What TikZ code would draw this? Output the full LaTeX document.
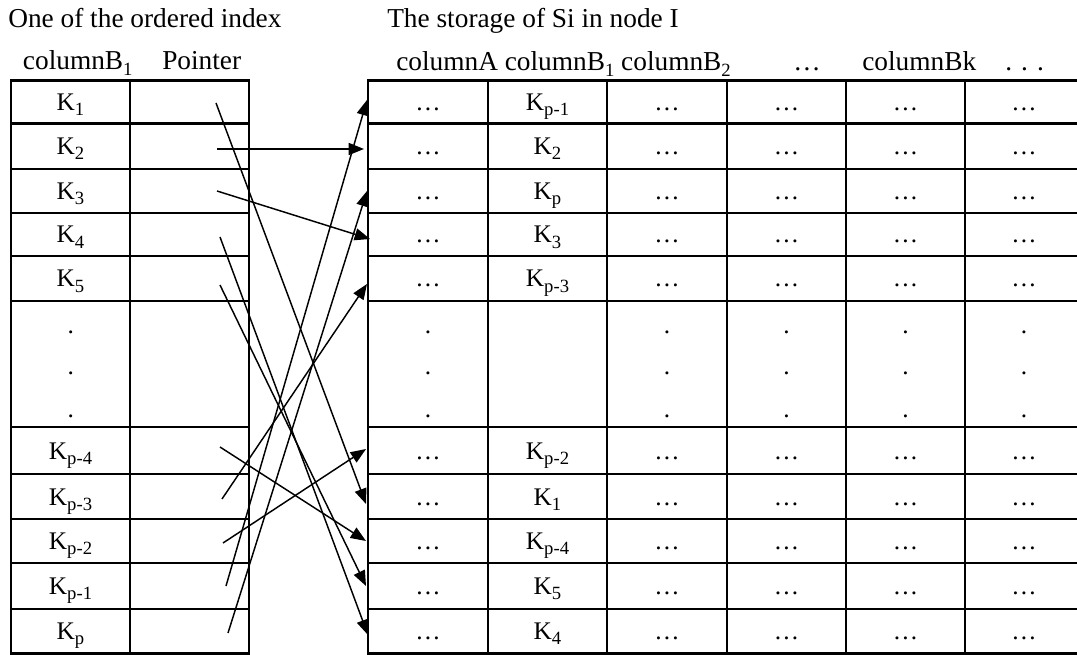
\documentclass[tikz,border=0pt]{standalone}
\usepackage{fontspec}
\setmainfont{Liberation Serif}
\usetikzlibrary{arrows.meta}
\newcommand\ksub[1]{\raisebox{-3.8pt}{\fontsize{14}{14}\selectfont #1}}
\begin{document}
\begin{tikzpicture}[x=0.75pt,y=-0.75pt,
  gridline/.style={line width=1.6pt, line cap=rect},
  ptr/.style={line width=1.1pt,-{Triangle[length=11.5pt,width=9pt]}},
  cell/.style={font=\fontsize{19}{22}\selectfont, anchor=base, inner sep=0pt},
  head/.style={font=\fontsize{20.5}{24}\selectfont, anchor=base west, inner sep=0pt},
  vdot/.style={font=\fontsize{19}{22}\selectfont, anchor=base, inner sep=0pt}]
\useasboundingbox (0,0) rectangle (1077,655);

% titles and headers
\node[head] (t1) at (8,27.3) {One of the ordered index};
\node[head] (t2) at (387,27.3) {The storage of Si in node I};
\node[head] (h1) at (22.7,70) {columnB\ksub{1}};
\node[head] (h2) at (162,70) {Pointer};
\node[head] (h3) at (396,71) {columnA columnB\ksub{1} columnB\ksub{2}};
\node[head] (h4) at (793,71) {…};
\node[head] (h5) at (862,71) {columnBk};
\node[head] (h6) at (1005,71) {. . .};

% grid lines
\foreach \y in {80.5,123.5,169,213,256,301,427,474,519,563,609,653.5}{
  \draw[gridline] (11,\y) -- (249,\y);
  \draw[gridline] (368,\y) -- (1080,\y);
}
\foreach \x in {11,130,249}{\draw[gridline] (\x,80.5) -- (\x,653.5);}
\foreach \x in {368,488,607,727,846,965}{\draw[gridline] (\x,80.5) -- (\x,653.5);}

% left table keys and right table column B1
\foreach \c/\l/\r [count=\i] in {102/1/p-1,146/2/2,191/3/p,234.5/4/3,278.5/5/p-3,450.5/p-4/p-2,496.5/p-3/1,541/p-2/p-4,586/p-1/5,631/p/4}{
  \node[cell] (L\i) at (70.5,\c+8.5) {K\ksub{\l}};
  \node[cell] (R\i) at (547.5,\c+8.5) {K\ksub{\r}};
  \foreach \x [count=\j] in {428,667,786.5,905.5,1024}{
    \node[cell] (E\i-\j) at (\x,\c+8.5) {…};
  }
}

% vertical dots
\foreach \y [count=\i] in {331.7,373.3,415.7}{
  \node[vdot] (DL\i) at (70.7,\y+1.5) {.};
  \foreach \x [count=\j] in {428,667,786.5,905.5,1024}{
    \node[vdot] (DR\i-\j) at (\x,\y+1.5) {.};
  }
}

% pointer start and target points
\coordinate (s1) at (216,103);  \coordinate (e1) at (366,504);
\coordinate (s2) at (217,149);  \coordinate (e2) at (364,149);
\coordinate (s3) at (217,191);  \coordinate (e3) at (370,239);
\coordinate (s4) at (220,237);  \coordinate (e4) at (368,635);
\coordinate (s5) at (220,285);  \coordinate (e5) at (366,586);
\coordinate (s6) at (220,447);  \coordinate (e6) at (366,541);
\coordinate (s7) at (222,499);  \coordinate (e7) at (367,284);
\coordinate (s8) at (223,543);  \coordinate (e8) at (366,449);
\coordinate (s9) at (226,586);  \coordinate (e9) at (367,100);
\coordinate (s10) at (228,633); \coordinate (e10) at (367,191);

\foreach \i in {1,...,10}{\draw[ptr] (s\i) -- (e\i);}
\end{tikzpicture}
\end{document}
